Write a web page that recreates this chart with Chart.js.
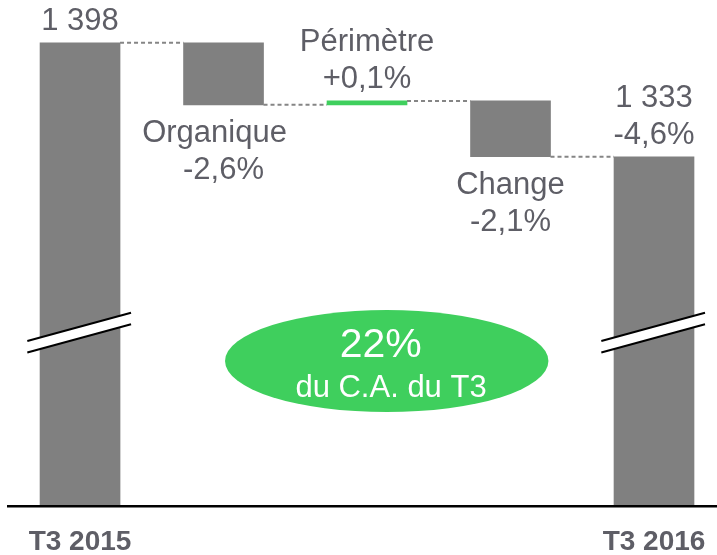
<!DOCTYPE html>
<html><head><meta charset="utf-8">
<script src="https://cdn.jsdelivr.net/npm/chart.js@4.4.0/dist/chart.umd.min.js"></script>
<style>html,body{margin:0;padding:0;background:#fff;overflow:hidden}#wrap{width:717px;height:555px;position:relative}</style>
</head><body><div id="wrap"><canvas id="c" width="717" height="555"></canvas></div>
<script>
// ---- data ----
const categories = ['T3 2015', 'Organique', 'Périmètre', 'Change', 'T3 2016'];
const axisLabels = ['T3 2015', '', '', '', 'T3 2016'];
const barStart = [0, 1398, 1362.6, 1364.8, 0];
const barEnd = [1398, 1362.6, 1364.8, 1333, 1333];
const labelLine1 = ['1 398', 'Organique', 'Périmètre', 'Change', '1 333'];
const labelLine2 = ['', '-2,6%', '+0,1%', '-2,1%', '-4,6%'];
const badgeTitle = '22%';
const badgeText = 'du C.A. du T3';

// ---- styles ----
const FONT = '"Liberation Sans", Arial, sans-serif';
const TEXT = '#5e5e66';
const GREY = '#808080';
const GREEN = '#3fcf5d';
const last = categories.length - 1;
const isTotal = i => i === 0 || i === last;

const deco = {
  id: 'deco',
  afterDatasetsDraw(chart) {
    const { ctx, scales: { x, y } } = chart;
    const meta = chart.getDatasetMeta(0);
    ctx.save();
    // dashed connectors
    ctx.strokeStyle = '#858585'; ctx.lineWidth = 2; ctx.setLineDash([4, 3]);
    for (let i = 0; i < last; i++) {
      const a = meta.data[i], b = meta.data[i + 1];
      const py = y.getPixelForValue(barEnd[i]);
      ctx.beginPath(); ctx.moveTo(a.x + a.width / 2, py); ctx.lineTo(b.x - b.width / 2, py); ctx.stroke();
    }
    ctx.setLineDash([]);
    // axis break marks on total bars
    [0, last].forEach(i => {
      const el = meta.data[i];
      const cy = y.getPixelForValue(1232.7);
      const l = el.x - el.width / 2 - 12.7, r = el.x + el.width / 2 + 11;
      const cx = (l + r) / 2, slope = -0.273, gap = 11.5;
      const yl = (px, off) => cy + off + slope * (px - cx);
      ctx.fillStyle = '#fff';
      ctx.beginPath();
      ctx.moveTo(l, yl(l, -gap / 2)); ctx.lineTo(r, yl(r, -gap / 2));
      ctx.lineTo(r, yl(r, gap / 2)); ctx.lineTo(l, yl(l, gap / 2));
      ctx.closePath(); ctx.fill();
      ctx.strokeStyle = '#000'; ctx.lineWidth = 2;
      [-gap / 2, gap / 2].forEach(off => {
        ctx.beginPath(); ctx.moveTo(l, yl(l, off)); ctx.lineTo(r, yl(r, off)); ctx.stroke();
      });
    });
    // value labels
    ctx.font = '31px ' + FONT; ctx.fillStyle = TEXT; ctx.textAlign = 'center'; ctx.textBaseline = 'alphabetic';
    const nudge = { 1: [-9, 0] };
    categories.forEach((c, i) => {
      const el = meta.data[i];
      const lines = [labelLine1[i], labelLine2[i]].filter(s => s);
      const up = isTotal(i) || barEnd[i] > barStart[i];
      const top = y.getPixelForValue(Math.max(barStart[i], barEnd[i]));
      const bot = y.getPixelForValue(Math.min(barStart[i], barEnd[i]));
      const dx = nudge[i] || [0, 0];
      lines.forEach((s, k) => {
        const py = up ? top - 13 - (lines.length - 1 - k) * 37 : bot + 37.5 + k * 37;
        ctx.fillText(s, el.x + dx[k], py);
      });
    });
    // badge
    const bx = x.getPixelForValue(2) + 19.7;
    const by = y.getPixelForValue(1216.5);
    ctx.fillStyle = GREEN;
    ctx.beginPath(); ctx.ellipse(bx, by, 161.7, 51, 0, 0, Math.PI * 2); ctx.fill();
    ctx.fillStyle = '#fff';
    ctx.font = '41px ' + FONT; ctx.fillText(badgeTitle, bx - 6, by - 4.3);
    ctx.font = '31px ' + FONT; ctx.fillText(badgeText, bx + 4.3, by + 35.7);
    ctx.restore();
  }
};

new Chart(document.getElementById('c'), {
  type: 'bar',
  data: {
    datasets: [{
      data: categories.map((c, i) => ({ x: i, y: [barStart[i], barEnd[i]] })),
      backgroundColor: categories.map((c, i) => (!isTotal(i) && barEnd[i] > barStart[i]) ? GREEN : GREY),
      borderWidth: 0,
      barThickness: 80
    }]
  },
  options: {
    responsive: false,
    devicePixelRatio: 1,
    animation: false,
    layout: { padding: { left: 8, right: 0, top: 0, bottom: 0.5 } },
    plugins: { legend: { display: false }, tooltip: { enabled: false } },
    scales: {
      x: {
        type: 'linear', offset: false, min: -0.502, max: 4.439,
        grid: { display: false, drawTicks: false },
        border: { display: true, color: '#000', width: 2.5, z: 1 },
        afterBuildTicks: s => { s.ticks = categories.map((c, i) => ({ value: i })); },
        afterFit: s => { s.height = 48.2; s.paddingLeft = 0; s.paddingRight = 0; },
        ticks: {
          autoSkip: false, maxRotation: 0, padding: 23, color: TEXT,
          font: { family: FONT, size: 28, weight: 'bold', lineHeight: 0.9 },
          callback: v => axisLabels[v] ?? ''
        }
      },
      y: { display: false, min: 1133.7, max: 1422.35 }
    }
  },
  plugins: [deco]
});
</script>
</body></html>
